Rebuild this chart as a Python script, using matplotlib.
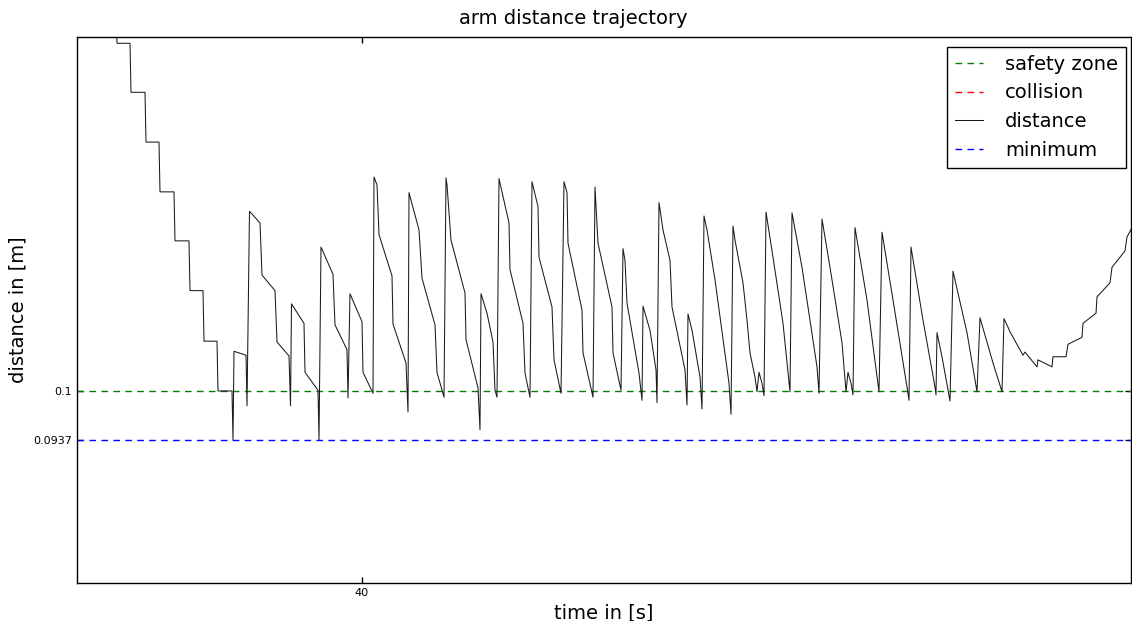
import matplotlib
matplotlib.use("Agg")
import matplotlib.pyplot as plt

# time in seconds
time_s = [
    28.60, 30.16, 30.20, 30.72, 30.76, 31.32, 31.36, 31.88, 31.92, 32.48,
    32.52, 33.08, 33.12, 33.64, 33.68, 34.20, 34.24, 34.80, 34.84, 34.88,
    35.36, 35.40, 35.50, 35.92, 36.00, 36.52, 36.60, 37.08, 37.14, 37.18,
    37.68, 37.72, 38.24, 38.28, 38.36, 38.84, 38.92, 39.40, 39.44, 39.52,
    40.00, 40.04, 40.44, 40.48, 40.60, 40.68, 41.20, 41.24, 41.76, 41.84,
    41.88, 42.28, 42.40, 42.92, 43.00, 43.24, 43.28, 43.36, 43.40, 43.56,
    44.12, 44.16, 44.64, 44.72, 44.76, 45.00, 45.24, 45.32, 45.40, 45.48,
    45.88, 45.92, 46.44, 46.52, 46.72, 46.80, 47.04, 47.08, 47.60, 47.68,
    47.96, 48.08, 48.20, 48.24, 48.80, 48.84, 49.24, 49.32, 49.44, 50.00,
    50.04, 50.36, 50.44, 50.52, 50.60, 51.08, 51.20, 51.24, 51.52, 51.76,
    51.80, 51.88, 52.04, 52.32, 52.40, 52.92, 53.00, 53.04, 53.20, 53.52,
    53.60, 53.68, 53.80, 54.12, 54.68, 54.76, 54.84, 54.92, 55.24, 55.40,
    55.52, 55.72, 55.80, 55.88, 56.00, 56.08, 56.16, 56.44, 56.84, 57.12,
    57.20, 57.60, 58.20, 58.28, 58.40, 58.72, 59.20, 59.36, 59.44, 59.56,
    59.64, 59.72, 60.20, 60.68, 60.80, 61.24, 61.84, 61.88, 61.96, 62.44,
    62.92, 62.96, 63.00, 63.20, 63.52, 63.64, 64.20, 64.60, 64.72, 65.24,
    65.60, 65.68, 65.84, 65.92, 66.44, 66.52, 67.00, 67.04, 67.60, 67.64,
    68.16, 68.24, 68.80, 68.84, 69.36, 69.40, 69.92, 70.00, 70.52, 70.60,
    70.80,
]

# arm distance in metres
distance_m = [
    0.1490, 0.1490, 0.1447, 0.1447, 0.1384, 0.1384, 0.1320, 0.1320, 0.1256, 0.1256,
    0.1193, 0.1193, 0.1129, 0.1129, 0.1064, 0.1064, 0.1000, 0.1000, 0.0937, 0.1051,
    0.1046, 0.0981, 0.1231, 0.1216, 0.1149, 0.1129, 0.1063, 0.1045, 0.0981, 0.1112,
    0.1087, 0.1024, 0.1001, 0.0937, 0.1185, 0.1150, 0.1085, 0.1053, 0.0991, 0.1125,
    0.1089, 0.1024, 0.0997, 0.1275, 0.1265, 0.1201, 0.1148, 0.1086, 0.1036, 0.0973,
    0.1255, 0.1207, 0.1145, 0.1085, 0.1024, 0.0997, 0.0992, 0.1274, 0.1265, 0.1194,
    0.1126, 0.1066, 0.1004, 0.0950, 0.1125, 0.1100, 0.1063, 0.1001, 0.0992, 0.1273,
    0.1216, 0.1156, 0.1087, 0.1023, 0.0992, 0.1269, 0.1237, 0.1172, 0.1108, 0.1040,
    0.0997, 0.1269, 0.1255, 0.1190, 0.1104, 0.1049, 0.0992, 0.1262, 0.1190, 0.1108,
    0.1049, 0.1001, 0.1183, 0.1168, 0.1113, 0.1023, 0.0988, 0.1109, 0.1078, 0.1027,
    0.0985, 0.1242, 0.1207, 0.1168, 0.1108, 0.1027, 0.0982, 0.1099, 0.1078, 0.1018,
    0.0977, 0.1225, 0.1207, 0.1143, 0.1010, 0.0970, 0.1212, 0.1194, 0.1139, 0.1091,
    0.1049, 0.1018, 0.0999, 0.1024, 0.1010, 0.0994, 0.1230, 0.1172, 0.1087, 0.0999,
    0.1229, 0.1159, 0.1031, 0.0997, 0.1221, 0.1159, 0.1062, 0.0999, 0.1024, 0.1010,
    0.0995, 0.1210, 0.1117, 0.0999, 0.1204, 0.1117, 0.0997, 0.0988, 0.1185, 0.1091,
    0.1005, 0.0995, 0.1075, 0.1044, 0.0987, 0.1154, 0.1075, 0.0999, 0.1094, 0.1036,
    0.0999, 0.1093, 0.1082, 0.1076, 0.1046, 0.1050, 0.1031, 0.1040, 0.1031, 0.1044,
    0.1044, 0.1060, 0.1069, 0.1087, 0.1100, 0.1121, 0.1139, 0.1159, 0.1180, 0.1198,
    0.1210,
]

safety_zone = 0.1
collision = 0.0
minimum = 0.0937

x_limits = (28.6, 70.76)
y_limits = (0.07531, 0.14551)
x_ticks = [40]
y_ticks = [minimum, safety_zone]
y_tick_labels = ["0.0937", "0.1"]

W, H = 1132, 621
fig = plt.figure(figsize=(W / 100, H / 100), dpi=100)
ax = fig.add_axes([77 / W, 1 - 583 / H, (1131 - 77) / W, (583 - 37) / H])

dash = (0, (4.8, 3.8))
ax.axhline(safety_zone, color="green", lw=1.0, ls=dash, label="safety zone")
ax.axhline(collision, color="red", lw=1.0, ls=dash, label="collision")
ax.plot(time_s, distance_m, color="#1a1a1a", lw=0.75, label="distance")
ax.axhline(minimum, color="blue", lw=1.0, ls=dash, label="minimum")

ax.set_xlim(*x_limits)
ax.set_ylim(*y_limits)
ax.set_xticks(x_ticks)
ax.set_yticks(y_ticks)
ax.set_yticklabels(y_tick_labels)
ax.tick_params(direction="in", top=True, right=True, labelsize=8, length=4, width=1)

fig.text(573.5 / W, 1 - 19 / H, "arm distance trajectory", fontsize=14,
         ha="center", va="center")
ax.set_xlabel("time in [s]", fontsize=14)
ax.set_ylabel("distance in [m]", fontsize=14)

leg = ax.legend(loc="upper right",
                bbox_to_anchor=((1126 - 77) / 1054, (583 - 47) / 546),
                borderaxespad=0, fontsize=14, fancybox=False, framealpha=1,
                edgecolor="black", handlelength=1.44, handletextpad=1.13)
leg.get_frame().set_linewidth(1.0)

for s in ax.spines.values():
    s.set_linewidth(1.0)

fig.savefig("out.png", dpi=100)
